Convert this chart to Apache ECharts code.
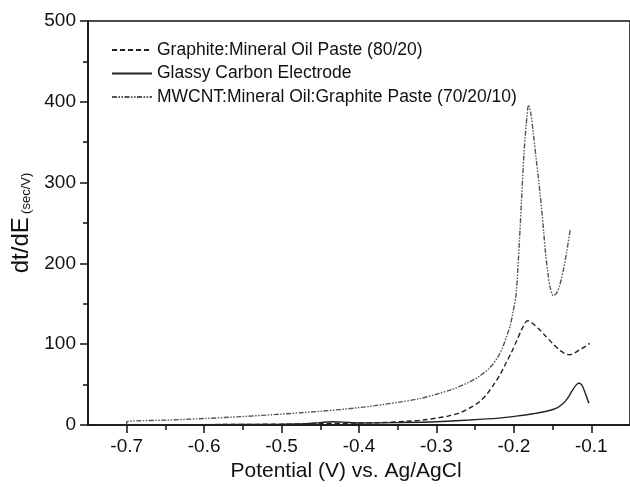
<!DOCTYPE html>
<html>
<head>
<meta charset="utf-8">
<script src="https://cdn.jsdelivr.net/npm/echarts@6/dist/echarts.min.js"></script>
<style>
  html, body { margin: 0; padding: 0; background: #fff; }
  #chart { width: 630px; height: 487px; }
</style>
</head>
<body>
<div id="chart"></div>
<script>
// series names
var seriesNames = [
    'Graphite:Mineral Oil Paste (80/20)',
    'Glassy Carbon Electrode',
    'MWCNT:Mineral Oil:Graphite Paste (70/20/10)'
];

// [potential (V), dt/dE (sec/V)]
var graphiteData = [
    [-0.7, 0.5], [-0.6, 0.5], [-0.5, 1], [-0.45, 1.5], [-0.4, 2.5], [-0.37, 3],
    [-0.34, 4.5], [-0.318, 6], [-0.3, 8.5], [-0.285, 11], [-0.27, 15], [-0.255, 22],
    [-0.244, 29], [-0.235, 38], [-0.226, 50], [-0.218, 62], [-0.21, 77], [-0.203, 90],
    [-0.196, 105], [-0.19, 118], [-0.185, 127], [-0.182, 129], [-0.176, 126],
    [-0.168, 119], [-0.16, 111], [-0.15, 101], [-0.14, 92], [-0.133, 88],
    [-0.128, 87], [-0.122, 89], [-0.115, 93], [-0.108, 97], [-0.102, 101]
];

var glassyData = [
    [-0.7, 0.3], [-0.6, 0.5], [-0.5, 1], [-0.47, 1.5], [-0.45, 3], [-0.435, 4],
    [-0.42, 3.5], [-0.4, 2.5], [-0.35, 3], [-0.3, 4], [-0.26, 6], [-0.22, 8.5],
    [-0.197, 11], [-0.175, 14], [-0.158, 17], [-0.145, 21], [-0.136, 27],
    [-0.13, 34], [-0.125, 42], [-0.12, 49], [-0.116, 52], [-0.112, 49],
    [-0.108, 40], [-0.105, 32], [-0.103, 27]
];

var mwcntData = [
    [-0.7, 0.5], [-0.7, 4], [-0.65, 6], [-0.6, 8], [-0.55, 10.5], [-0.5, 13.5],
    [-0.45, 17], [-0.4, 21.5], [-0.35, 28], [-0.32, 33], [-0.3, 38], [-0.28, 44],
    [-0.26, 52], [-0.245, 60], [-0.232, 70], [-0.222, 82], [-0.215, 95],
    [-0.21, 108], [-0.205, 122], [-0.201, 140], [-0.197, 163], [-0.193, 225],
    [-0.19, 280], [-0.187, 335], [-0.184, 372], [-0.181, 396], [-0.178, 385],
    [-0.175, 362], [-0.171, 328], [-0.166, 285], [-0.162, 245], [-0.159, 212],
    [-0.156, 188], [-0.153, 170], [-0.149, 160], [-0.145, 163], [-0.141, 172],
    [-0.136, 192], [-0.132, 213], [-0.127, 243]
];

// tick positions
var xMajorTicks = [-0.7, -0.6, -0.5, -0.4, -0.3, -0.2, -0.1];
var xMinorTicks = [-0.65, -0.55, -0.45, -0.35, -0.25, -0.15];

var font = 'Liberation Sans, Arial, sans-serif';
var ink = '#111';

var chart = echarts.init(document.getElementById('chart'));

chart.setOption({
    animation: false,
    textStyle: { fontFamily: font },
    grid: {
        left: 88, right: 0, top: 21, bottom: 62,
        show: true, borderColor: ink, borderWidth: 1.5
    },
    legend: {
        orient: 'vertical',
        left: 111, top: 40, padding: 0,
        itemWidth: 40, itemHeight: 10, itemGap: 3.5,
        itemStyle: { opacity: 0, borderWidth: 0 },
        textStyle: { fontSize: 17.5, color: ink, lineHeight: 20, fontFamily: font },
        data: seriesNames
    },
    xAxis: [{
        type: 'value',
        min: -0.75, max: -0.05, interval: 0.05,
        name: 'Potential (V) vs. Ag/AgCl',
        nameLocation: 'middle', nameGap: 31,
        nameTextStyle: { fontSize: 21, color: ink, padding: [0, 26, 0, 0] },
        axisLine: { onZero: false, lineStyle: { color: ink, width: 1.5 } },
        axisTick: { length: 8, customValues: xMajorTicks, lineStyle: { color: ink, width: 1.5 } },
        axisLabel: {
            customValues: xMajorTicks, margin: 12,
            fontSize: 19, color: ink,
            formatter: function (v) { return v.toFixed(1); }
        },
        splitLine: { show: false }
    }, {
        type: 'value',
        position: 'bottom',
        min: -0.75, max: -0.05, interval: 0.05,
        axisLine: { show: false, onZero: false },
        axisTick: { length: 5, customValues: xMinorTicks, lineStyle: { color: ink, width: 1.5 } },
        axisLabel: { show: false },
        splitLine: { show: false }
    }],
    yAxis: {
        type: 'value',
        min: 0, max: 500, interval: 100,
        name: '{a|dt/dE} {b|(sec/V)}',
        nameLocation: 'middle', nameGap: 49,
        nameTextStyle: {
            color: ink,
            rich: {
                a: { fontSize: 24, color: ink, fontFamily: font, verticalAlign: 'bottom' },
                b: { fontSize: 13, color: ink, fontFamily: font, verticalAlign: 'bottom' }
            }
        },
        axisLine: { show: true, lineStyle: { color: ink, width: 1.5 } },
        axisTick: { length: 8, lineStyle: { color: ink, width: 1.5 } },
        minorTick: { show: true, splitNumber: 2, length: 5, lineStyle: { color: ink, width: 1.5 } },
        axisLabel: { fontSize: 19, color: ink, margin: 12 },
        splitLine: { show: false }
    },
    series: [{
        name: seriesNames[0],
        type: 'line',
        data: graphiteData,
        symbol: 'none',
        smooth: 0.3,
        lineStyle: { color: '#222', width: 1.4, type: [5, 3] },
        itemStyle: { color: '#222' }
    }, {
        name: seriesNames[1],
        type: 'line',
        data: glassyData,
        symbol: 'none',
        smooth: 0.3,
        lineStyle: { color: '#222', width: 1.4, type: 'solid' },
        itemStyle: { color: '#222' }
    }, {
        name: seriesNames[2],
        type: 'line',
        data: mwcntData,
        symbol: 'none',
        smooth: 0.3,
        lineStyle: { color: '#555', width: 1.4, type: [5, 1.5, 1.5, 1.5, 1.5, 1.5] },
        itemStyle: { color: '#555' }
    }]
});
</script>
</body>
</html>
